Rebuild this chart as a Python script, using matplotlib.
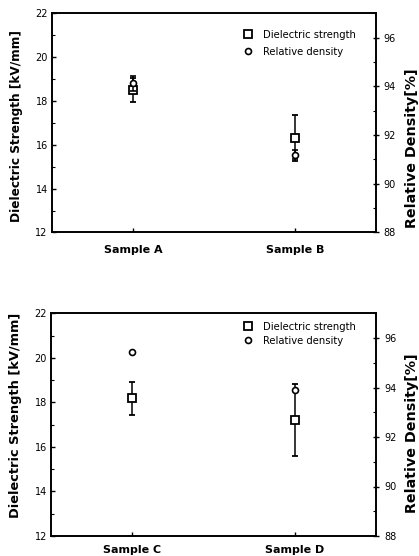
import matplotlib
matplotlib.use("Agg")
import matplotlib.pyplot as plt
from matplotlib.ticker import MultipleLocator

plt.rcParams['font.family'] = ['DejaVu Sans']

# Top panel
samples_top = ["Sample A", "Sample B"]
ds_top = [18.5, 16.32]
ds_err_top = [0.56, 1.04]
rd_top = [94.13, 91.2]
rd_err_top = [0.3, 0.2]

# Bottom panel
samples_bot = ["Sample C", "Sample D"]
ds_bot = [18.18, 17.21]
ds_err_bot = [0.75, 1.62]
rd_bot = [95.42, 93.92]
rd_err_bot = [0.0, 0.0]

ds_ticks = [12, 14, 16, 18, 20, 22]
rd_ticks = [88, 90, 92, 94, 96]

fig = plt.figure(figsize=(4.19, 5.56), dpi=100)

def panel(rect, samples, ds, ds_err, rd, rd_err, label_y, lfs, lly, rfs, rly,
          leg_anchor, leg_ls, rlabel):
    ax = fig.add_axes(rect)
    xs = [0.5, 1.5]
    ax.set_xlim(0, 2)
    ax.set_ylim(12, 22)
    l1 = ax.errorbar(xs, ds, yerr=ds_err, fmt='s', mfc='white', mec='black',
                     ecolor='black', ms=5.5, mew=1.3, elinewidth=1.1, capsize=2.2,
                     capthick=1.1, color='black', zorder=3)
    ax2 = ax.twinx()
    ax2.set_ylim(88, 97)
    l2 = ax2.errorbar(xs, rd, yerr=rd_err, fmt='o', mfc='white', mec='black',
                      ecolor='black', ms=4.3, mew=1.2, elinewidth=1.1, capsize=2.2,
                      capthick=1.1, color='black', zorder=3)
    ax.set_xticks(xs)
    ax.set_xticklabels([])
    ax.tick_params(axis='x', direction='in', length=3, width=1, top=False)
    for i, s in enumerate(samples):
        ax.text(xs[i], label_y, s, transform=ax.get_xaxis_transform(),
                ha='center', va='center', fontsize=8, fontweight='bold')
    ax.set_yticks(ds_ticks)
    ax.yaxis.set_minor_locator(MultipleLocator(1))
    ax.tick_params(axis='y', which='major', direction='in', length=3, width=1,
                   labelsize=7, pad=3)
    ax.tick_params(axis='y', which='minor', direction='in', length=2, width=0.8)
    ax2.set_yticks(rd_ticks)
    ax2.yaxis.set_minor_locator(MultipleLocator(1))
    ax2.tick_params(axis='y', which='major', direction='inout', length=5, width=1,
                    labelsize=7, pad=3)
    ax2.tick_params(axis='y', which='minor', direction='in', length=2, width=0.8)
    for a in (ax, ax2):
        for sp in a.spines.values():
            sp.set_linewidth(1.2)
    ax.text(-0.111, lly, "Dielectric Strength [kV/mm]", transform=ax.transAxes,
            rotation=90, ha='center', va='center', fontsize=lfs, fontweight='bold')
    ax.text(1.111, rly, rlabel, transform=ax.transAxes,
            rotation=90, ha='center', va='center', fontsize=rfs, fontweight='bold')
    ax.legend([l1[0], l2[0]], ["Dielectric strength", "Relative density"],
              loc='upper left', bbox_to_anchor=leg_anchor, frameon=False,
              fontsize=7.2, handletextpad=1.0, handlelength=1.0,
              labelspacing=leg_ls, borderaxespad=0, borderpad=0)
    return ax

panel([0.124, 0.582, 0.773, 0.394], samples_top, ds_top, ds_err_top, rd_top, rd_err_top,
      -0.08, 8.7, 0.485, 10.3, 0.385, (0.59, 0.924), 0.7, "Relative Density[%]")
panel([0.122, 0.036, 0.776, 0.4005], samples_bot, ds_bot, ds_err_bot, rd_bot, rd_err_bot,
      -0.065, 9.4, 0.543, 10.3, 0.46, (0.59, 0.961), 0.4, "Relative Density[%]")

fig.savefig("out.png", dpi=100)
